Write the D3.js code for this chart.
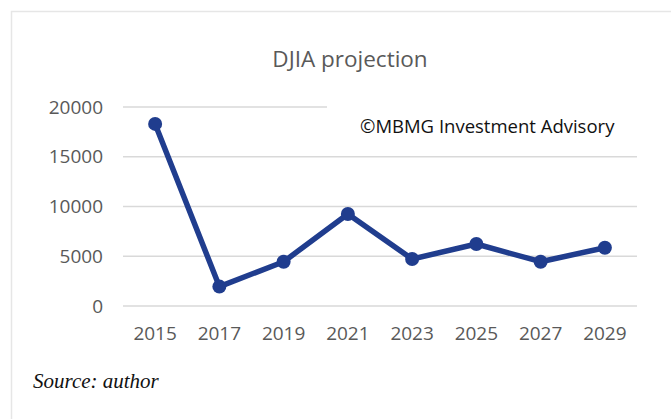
<!DOCTYPE html>
<html>
<head>
<meta charset="utf-8">
<script src="https://cdn.jsdelivr.net/npm/d3@7"></script>
<style>
  body { margin: 0; background: #fff; }
  svg { display: block; }
  .tick text { fill: #595959; font-family: "Open Sans", sans-serif; font-size: 19px; }
</style>
</head>
<body>
<div class="plot"></div>
<script>
// data
var years = ['2015','2017','2019','2021','2023','2025','2027','2029'];
var djia = [18300, 1950, 4450, 9250, 4720, 6230, 4450, 5860];
var yTicks = [0, 5000, 10000, 15000, 20000];

var W = 671, H = 419;
var m = {t:107, r:34, b:113, l:123},
	w = 637 - m.l,
	h = 306 - m.t;

var svg = d3.select('.plot')
	.append('svg')
	.attr('width', W)
	.attr('height', H);

// chart frame (runs off the right and bottom edge)
svg.append('rect')
	.attr('x', 11.5).attr('y', 11.5)
	.attr('width', 700).attr('height', 450)
	.style('fill', 'none')
	.style('stroke', '#e6e6e6')
	.style('stroke-width', 1.5);

var g = svg.append('g')
	.attr('transform', 'translate(' + m.l + ',' + m.t + ')');

var x = d3.scaleBand().domain(years).range([0, w]);
var y = d3.scaleLinear().domain([0, 20000]).range([h, 0]);

// gridlines; the top one is cut short by the watermark
g.selectAll('.grid')
	.data(yTicks)
	.enter()
	.append('line')
	.attr('class', 'grid')
	.attr('x1', 0)
	.attr('x2', function(d){ return d === 20000 ? 204 : w; })
	.attr('y1', d => y(d))
	.attr('y2', d => y(d))
	.style('stroke', '#d9d9d9')
	.style('stroke-width', 1.3);

var yAxis = g.append('g')
	.call(d3.axisLeft(y).tickValues(yTicks).tickFormat(d3.format('d')).tickSize(0).tickPadding(20));
yAxis.select('.domain').remove();

var xAxis = g.append('g')
	.attr('transform', 'translate(0,' + h + ')')
	.call(d3.axisBottom(x).tickSize(0).tickPadding(21));
xAxis.select('.domain').remove();

var pts = years.map(function(d, i){ return {year:d, value:djia[i]}; });

var line = d3.line()
	.x(d => x(d.year) + x.bandwidth()/2)
	.y(d => y(d.value));

g.append('path')
	.datum(pts)
	.attr('d', line)
	.style('fill', 'none')
	.style('stroke', '#203d8e')
	.style('stroke-width', 5.5)
	.style('stroke-linejoin', 'round');

g.selectAll('.dot')
	.data(pts)
	.enter()
	.append('circle')
	.attr('class', 'dot')
	.attr('cx', d => x(d.year) + x.bandwidth()/2)
	.attr('cy', d => y(d.value))
	.attr('r', 7)
	.style('fill', '#203d8e');

// title
svg.append('text')
	.attr('x', 350).attr('y', 67)
	.attr('text-anchor', 'middle')
	.style('font-family', '"Open Sans", sans-serif')
	.style('font-size', '22.5px')
	.style('fill', '#595959')
	.text('DJIA projection');

// watermark
svg.append('text')
	.attr('x', 360).attr('y', 133)
	.style('font-family', '"Open Sans", sans-serif')
	.style('font-size', '18.5px')
	.style('fill', '#111')
	.text('\u00A9MBMG Investment Advisory');

// source note
svg.append('text')
	.attr('x', 33).attr('y', 388)
	.style('font-family', '"Liberation Serif", serif')
	.style('font-style', 'italic')
	.style('font-size', '21px')
	.style('fill', '#111')
	.text('Source: author');
</script>
</body>
</html>
